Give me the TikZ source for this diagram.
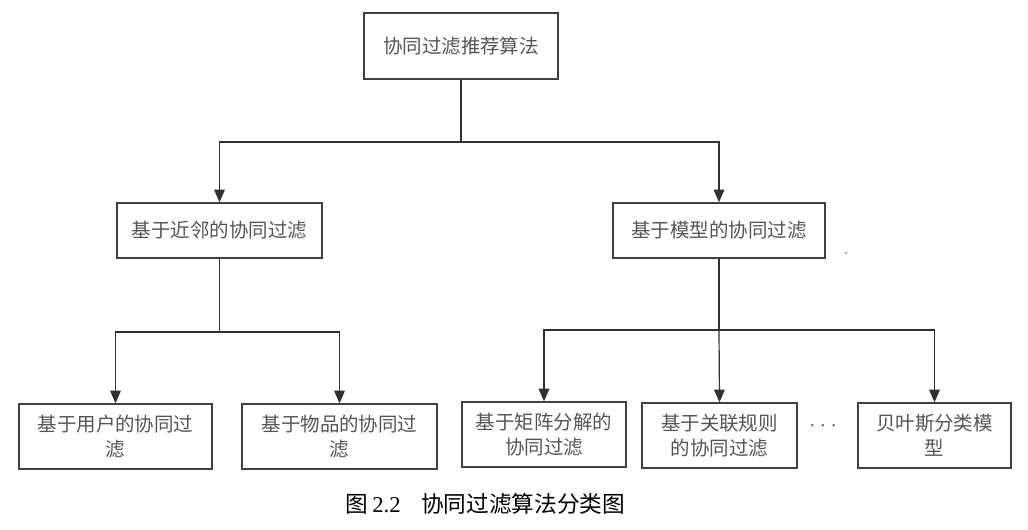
\documentclass[tikz,border=0pt]{standalone}
\usepackage{fontspec}
\newfontfamily\cjk{Noto Sans CJK SC}
\newfontfamily\latinserif{Liberation Serif}
\usetikzlibrary{arrows.meta}
\definecolor{boxline}{HTML}{404040}
\definecolor{conn}{HTML}{303030}
\definecolor{txt}{HTML}{555555}
\tikzset{
  box/.style={draw=boxline, line width=1.1pt, rectangle, inner sep=0pt, align=center,
    font=\cjk\fontsize{14.6pt}{18.8pt}\selectfont, text=txt},
  conline/.style={draw=conn, line width=0.9pt},
  arr/.style={conline, -{Triangle[length=9.5pt,width=8pt]}},
}
\begin{document}
\begin{tikzpicture}[x=0.75pt,y=-0.75pt]
\useasboundingbox (0,0) rectangle (1028,530);
\fill[white] (0,0) rectangle (1028,530);
% nodes
\node[box, minimum width=145.5pt, minimum height=49.5pt] (top) at (461,46) {协同过滤推荐算法};
\node[box, minimum width=153.75pt, minimum height=41.25pt] (lm) at (219.5,230.5) {基于近邻的协同过滤};
\node[box, minimum width=159pt, minimum height=41.25pt] (rm) at (719,230.5) {基于模型的协同过滤};
\node[box, minimum width=144.75pt, minimum height=48.75pt] (b1) at (115.5,436.5) {基于用户的协同过\\滤};
\node[box, minimum width=146.25pt, minimum height=48.75pt] (b2) at (339.5,436.5) {基于物品的协同过\\滤};
\node[box, minimum width=123pt, minimum height=48.75pt] (b3) at (544,434.5) {基于矩阵分解的\\协同过滤};
\node[box, minimum width=116.25pt, minimum height=48.75pt] (b4) at (719.5,435.5) {基于关联规则\\的协同过滤};
\node[box, minimum width=114.75pt, minimum height=48.75pt] (b5) at (934.5,435.5) {贝叶斯分类模\\型};
\node[text=txt, font=\latinserif\fontsize{14pt}{16pt}\selectfont, inner sep=0pt] (dots) at (823,426) {.\hspace{4.5pt}.\hspace{4.5pt}.};
\node[fill=txt, circle, inner sep=0pt, minimum size=1.3pt] (speck) at (846,253) {};
\node[text=black, font=\cjk\fontsize{17pt}{19pt}\selectfont, inner sep=0pt] (cap) at (485.5,504) {图\,{\latinserif 2.2}\hspace{0.9em}协同过滤算法分类图};
% junctions
\coordinate (j1) at (461,142);
\coordinate (j2) at (219.5,332);
\coordinate (j3) at (719,330);
% connectors
\draw[conline] (top.south) -- (j1);
\draw[arr] (j1) -| (lm.north);
\draw[arr] (j1) -| (rm.north);
\draw[conline] (lm.south) -- (j2);
\draw[arr] (j2) -| (b1.north);
\draw[arr] (j2) -| (b2.north);
\draw[conline] (rm.south) -- (j3);
\draw[arr] (j3) -| (b3.north);
\draw[arr] (j3) -- (b4.north);
\draw[arr] (j3) -| (b5.north);
\end{tikzpicture}
\end{document}
